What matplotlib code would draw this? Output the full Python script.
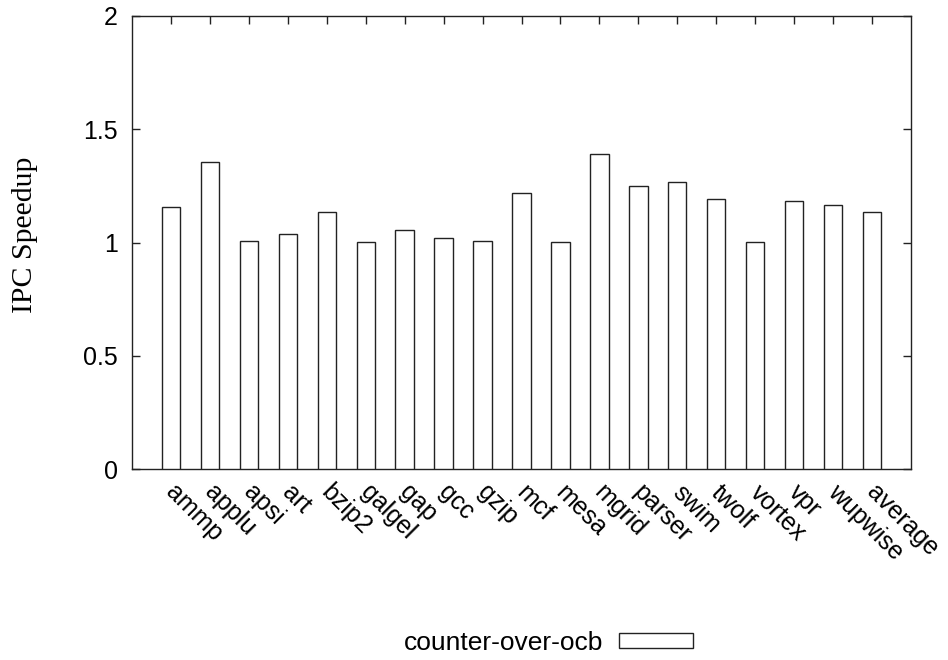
import matplotlib
matplotlib.use("Agg")
import matplotlib.pyplot as plt
import matplotlib.transforms as mtransforms
import numpy as np

# benchmark names and IPC speedup values
benchmarks = ['ammp', 'applu', 'apsi', 'art', 'bzip2', 'galgel', 'gap', 'gcc', 'gzip',
              'mcf', 'mesa', 'mgrid', 'parser', 'swim', 'twolf', 'vortex', 'vpr',
              'wupwise', 'average']
speedup = [1.158, 1.356, 1.008, 1.037, 1.134, 1.004, 1.054, 1.022, 1.008,
           1.217, 1.003, 1.389, 1.251, 1.267, 1.194, 1.003, 1.184, 1.166, 1.136]
series_name = 'counter-over-ocb'
yticks = [0, 0.5, 1, 1.5, 2]
ytick_labels = ['0', '0.5', '1', '1.5', '2']

fig = plt.figure(figsize=(9.48, 6.6), dpi=100)
ax = fig.add_axes([132/948, 1 - 469.3/660, 779/948, (469.3 - 15.7)/660])

x = np.arange(len(benchmarks))
ax.bar(x, speedup, width=0.47, color='white', edgecolor='#222222',
       linewidth=1.0, zorder=3, label=series_name)

ax.set_xlim(-1, len(benchmarks))
ax.set_ylim(0, 2)
ax.set_yticks(yticks)
ax.set_yticklabels(ytick_labels, fontsize=18, family='Liberation Sans')
ax.set_xticks(x)
ax.set_xticklabels(benchmarks, fontsize=18, family='Liberation Sans',
                   rotation=-45, ha='left', va='top', rotation_mode='anchor')

ax.tick_params(axis='y', direction='in', left=True, right=True, length=6,
               width=1, color='#222222', pad=10)
ax.tick_params(axis='x', direction='in', bottom=False, top=True, length=6,
               width=1, color='#222222', pad=8)

# nudge rotated labels a bit right, like the gnuplot original
# (after tick_params, which resets label transforms)
shift = mtransforms.ScaledTranslation(7/100, 0, fig.dpi_scale_trans)
for lbl in ax.get_xticklabels():
    lbl.set_transform(lbl.get_transform() + shift)

for s in ax.spines.values():
    s.set_color('#222222')
    s.set_linewidth(1.0)

fig.text(25/948, 1 - 235/660, 'IPC Speedup', rotation=90, ha='center', va='center',
         fontsize=21.5, family='Liberation Serif')

ax.legend(loc='center', bbox_to_anchor=(548/948, 1 - 643/660),
          bbox_transform=fig.transFigure, frameon=False, markerfirst=False,
          prop={'family': 'Liberation Sans', 'size': 19},
          handlelength=2.8, handleheight=0.49, handletextpad=0.6)

fig.savefig('out.png', dpi=100)
